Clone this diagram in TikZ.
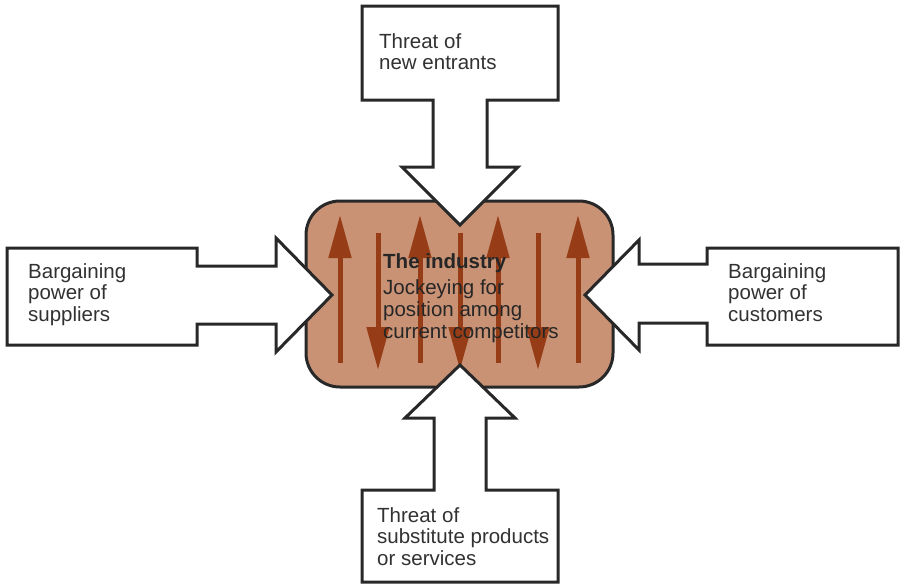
\documentclass[tikz,border=0pt]{standalone}
\usepackage{fontspec}
\setmainfont{Liberation Sans}
\usetikzlibrary{arrows.meta}
\definecolor{shapefill}{RGB}{201,146,116}
\definecolor{arrbrown}{RGB}{150,60,22}
\definecolor{inkline}{RGB}{40,40,40}
\definecolor{inktext}{RGB}{50,50,50}
\tikzset{
  blockarrow/.style={draw=inkline, fill=white, line width=3pt, line join=miter},
  forcetext/.style={anchor=north west, inner sep=0pt, align=left, text=inktext,
    font=\fontsize{20.5}{21.5}\selectfont},
  industrytext/.style={anchor=north west, inner sep=0pt, align=left, text=black!85,
    font=\fontsize{20.5}{22}\selectfont},
  competitor/.style={draw=arrbrown, line width=5pt,
    -{Triangle[width=22pt,length=43pt]}},
}
\begin{document}
\begin{tikzpicture}[x=1pt,y=-1pt]
\useasboundingbox (0,0) rectangle (906,584);
% the industry
\node[draw=inkline, fill=shapefill, line width=3pt, rounded corners=34pt,
      minimum width=307pt, minimum height=186pt, inner sep=0pt] (industry) at (459.5,294) {};
% jockeying arrows
\foreach \x in {340,420,498,578} \draw[competitor] (\x,363) -- (\x,215);
\foreach \x in {378,460,538} \draw[competitor] (\x,233) -- (\x,370);
% block arrows
\draw[blockarrow] (362,6) -- (558,6) -- (558,100) -- (487,100) -- (487,167) -- (518,167)
   -- (460,225) -- (402,167) -- (433,167) -- (433,100) -- (362,100) -- cycle;
\draw[blockarrow] (7,248) -- (197,248) -- (197,266) -- (276,266) -- (276,238)
   -- (332,295) -- (276,352) -- (276,324) -- (197,324) -- (197,345) -- (7,345) -- cycle;
\draw[blockarrow] (898,248) -- (707,248) -- (707,264) -- (639,264) -- (639,240)
   -- (585,295) -- (639,350) -- (639,323) -- (707,323) -- (707,345) -- (898,345) -- cycle;
\draw[blockarrow] (362,582) -- (362,490) -- (434,490) -- (434,418) -- (405,418)
   -- (460,365) -- (515,418) -- (486,418) -- (486,490) -- (558,490) -- (558,582) -- cycle;
% texts
\node[forcetext] (entrants) at (379,32) {\rule{0pt}{16pt}Threat of\\new entrants};
\node[forcetext] (suppliers) at (28,262) {\rule{0pt}{16pt}Bargaining\\power of\\suppliers};
\node[forcetext] (customers) at (728,262) {\rule{0pt}{16pt}Bargaining\\power of\\customers};
\node[forcetext] (substitutes) at (377,506) {\rule{0pt}{16pt}Threat of\\substitute products\\or services};
\node[industrytext] (rivalry) at (383,252) {\rule{0pt}{16pt}\textbf{The industry}\\[4pt]Jockeying for\\position among\\current competitors};
\end{tikzpicture}
\end{document}
